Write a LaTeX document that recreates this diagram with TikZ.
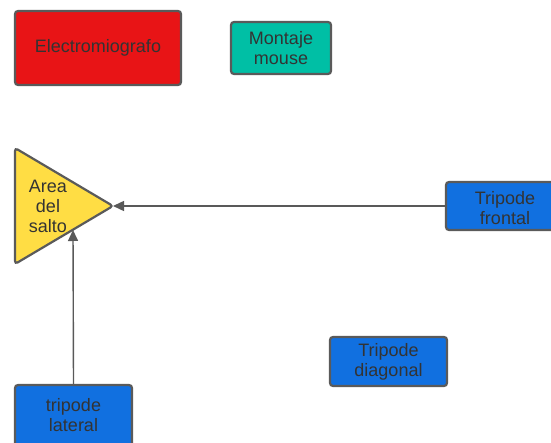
\documentclass[tikz,border=0pt]{standalone}
\usepackage{fontspec}
\setmainfont{Liberation Sans}
\usetikzlibrary{arrows.meta}
\definecolor{bordergray}{HTML}{5A5A5A}
\definecolor{linegray}{HTML}{595959}
\definecolor{txtgray}{HTML}{333333}
\definecolor{emgred}{HTML}{E81416}
\definecolor{mteal}{HTML}{00BFA5}
\definecolor{tblue}{HTML}{1170E0}
\definecolor{tyellow}{HTML}{FFDD44}
\begin{document}
\begin{tikzpicture}[x=1pt,y=-1pt,
  box/.style={draw=bordergray,line width=2.2pt,rounded corners=3pt,text=txtgray,
    font=\fontsize{18}{20}\selectfont,align=center,inner sep=0pt},
  lbl/.style={text=txtgray,font=\fontsize{18}{20}\selectfont,align=center,inner sep=0pt},
  conn/.style={draw=linegray,line width=1.4pt,-{Triangle[length=11pt,width=10pt]}}]
\useasboundingbox (0,0) rectangle (551,443);
\node[box,fill=emgred,minimum width=166pt,minimum height=74pt] (emg) at (98,48) {Electromiografo};
\node[box,fill=mteal,minimum width=100pt,minimum height=52pt] (mouse) at (281,48) {Montaje\\mouse};
\draw[draw=bordergray,line width=2.2pt,fill=tyellow,rounded corners=3pt]
  (15,148) -- (113,206) -- (15,264) -- cycle;
\coordinate (tip) at (113,206);
\coordinate (edge) at (73,230);
\node[lbl] (area) at (48,206) {Area\\del\\salto};
\node[box,fill=tblue,minimum width=120pt,minimum height=48pt] (frontal) at (506,206) {};
\node[lbl] (frontaltxt) at (505,208) {Tripode\\frontal};
\node[box,fill=tblue,minimum width=117pt,minimum height=49pt] (diag) at (388.5,361.5) {Tripode\\diagonal};
\node[box,fill=tblue,minimum width=117pt,minimum height=70pt] (lateral) at (73.5,420) {};
\node[lbl] (lateraltxt) at (73.5,415) {tripode\\lateral};
\draw[conn] (frontal.west) -- (tip);
\draw[conn] (lateral.north) -- (edge);
\end{tikzpicture}
\end{document}
